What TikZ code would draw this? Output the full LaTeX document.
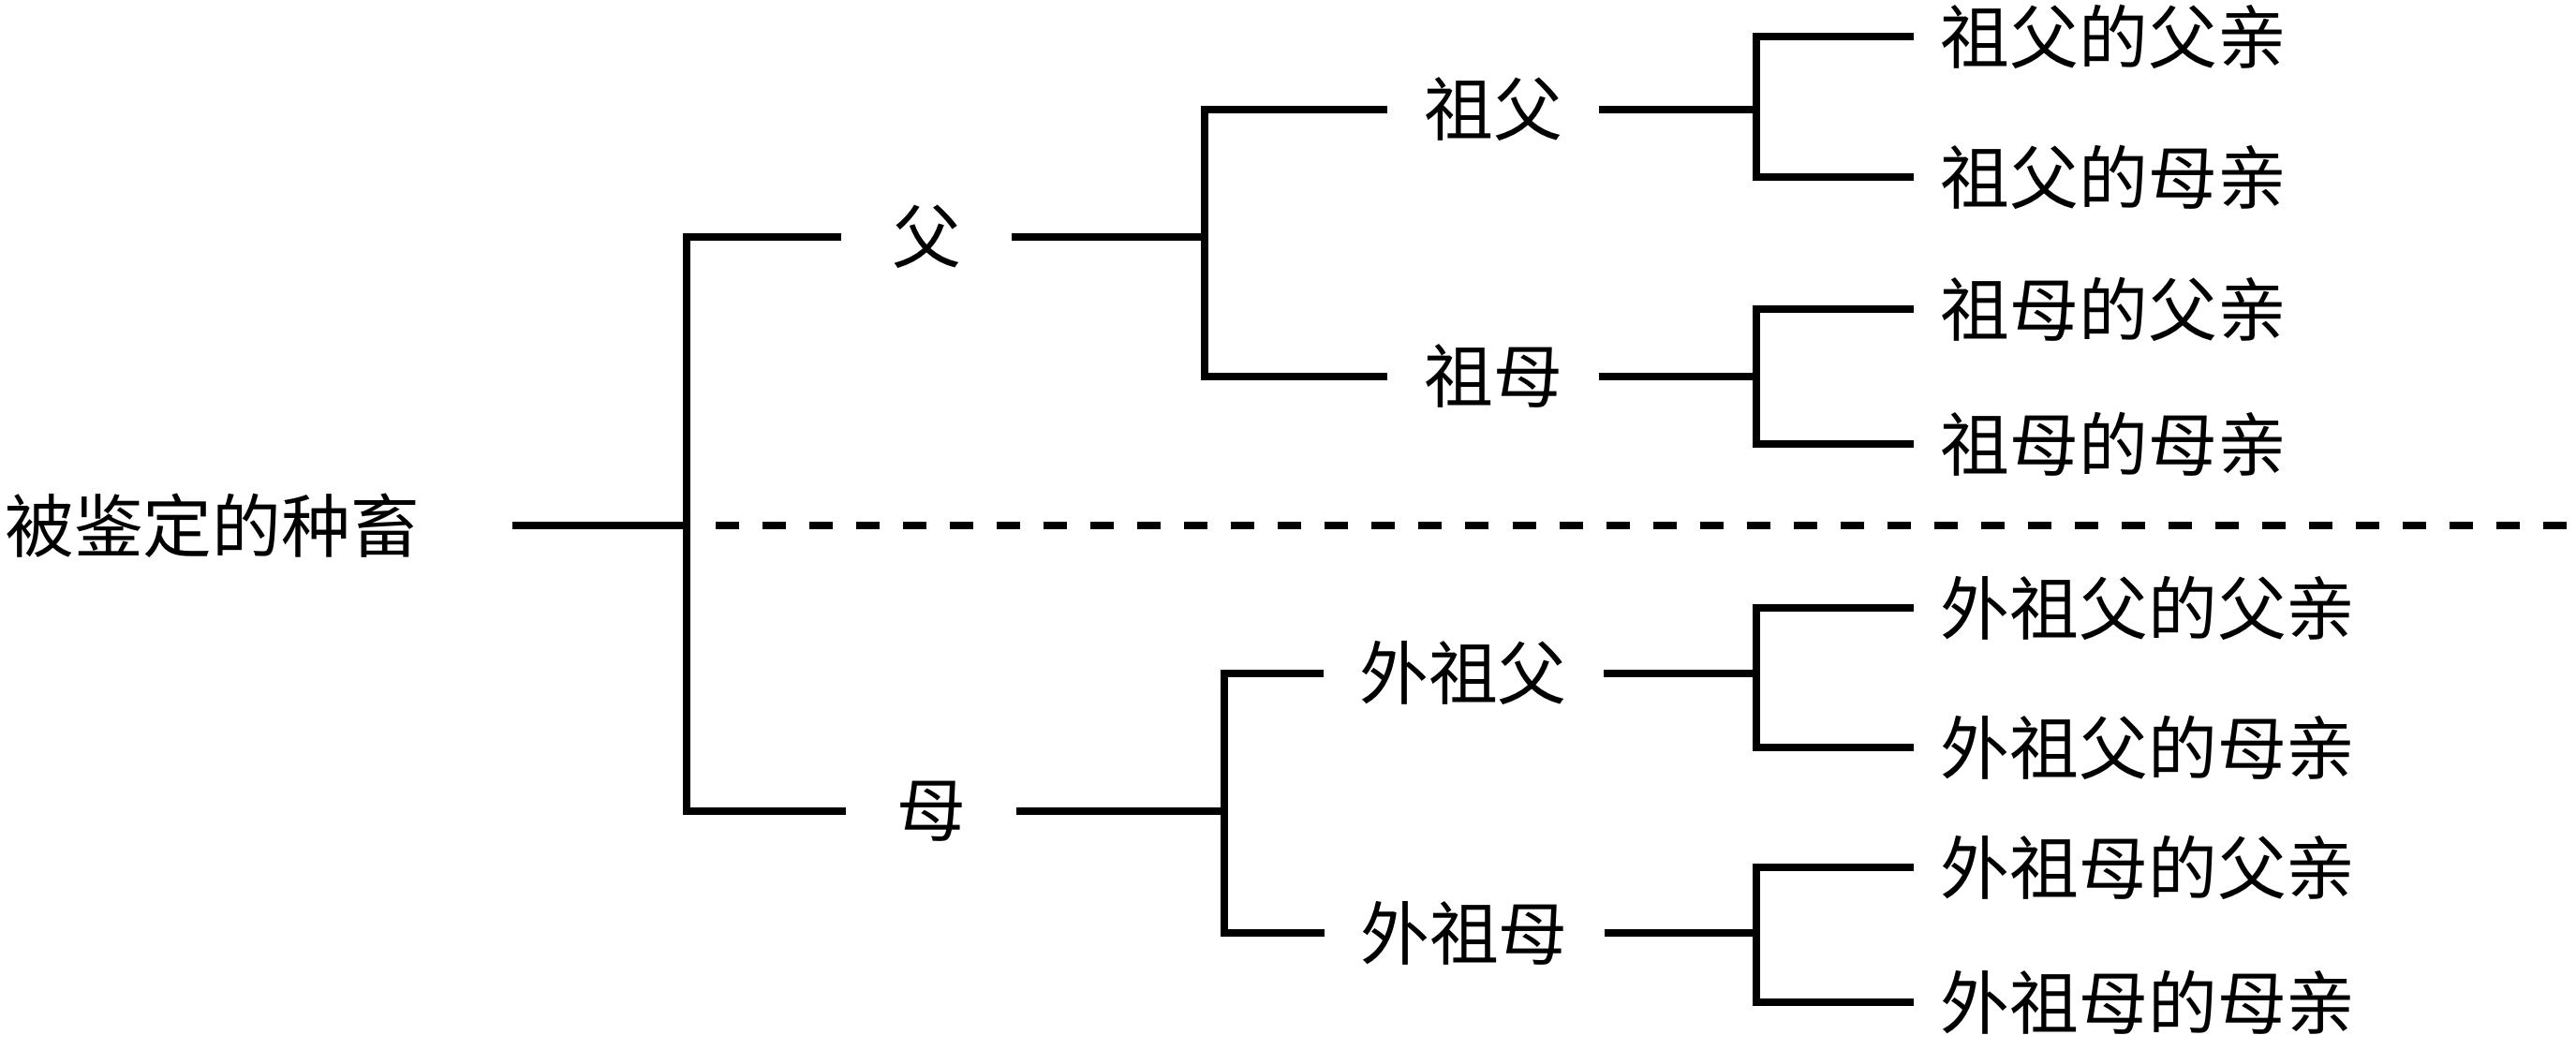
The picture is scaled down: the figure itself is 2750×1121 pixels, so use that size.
\documentclass[tikz,border=0pt]{standalone}
\usepackage{fontspec}
\setmainfont{Noto Sans CJK SC}

\begin{document}
\begin{tikzpicture}[x=0.01cm, y=-0.01cm, line width=2.1pt,
  every node/.style={font=\fontsize{21pt}{25pt}\selectfont, inner ysep=0pt},
  gen1/.style={inner xsep=0.5cm},
  gen2/.style={inner xsep=0.35cm},
  leaf/.style={anchor=west, inner xsep=0.25cm}]
\useasboundingbox (0,0) rectangle (2750,1121);

\node[anchor=east, inner xsep=0.95cm] (animal) at (547,561) {被鉴定的种畜};
\coordinate (j0) at (733,561);
\coordinate (d0) at (764,561);
\coordinate (d1) at (2750,561);

\node[gen1] (fu) at (989,253) {父};
\node[gen1] (mu) at (994,866) {母};

\draw (animal.east) -- (j0);
\draw (fu.west) -| (j0) |- (mu.west);
\draw[dash pattern=on 0.25cm off 0.25cm] (d0) -- (d1);

% paternal side
\coordinate (jf) at (1286,253);
\node[gen2] (zf) at (1594,117) {祖父};
\node[gen2] (zm) at (1594,402) {祖母};
\draw (fu.east) -- (jf);
\draw (zf.west) -| (jf) |- (zm.west);

\coordinate (jzf) at (1875,117);
\node[leaf] (zf-f) at (2043,39) {祖父的父亲};
\node[leaf] (zf-m) at (2043,189) {祖父的母亲};
\draw (zf.east) -- (jzf);
\draw (zf-f.west) -| (jzf) |- (zf-m.west);

\coordinate (jzm) at (1875,402);
\node[leaf] (zm-f) at (2043,330) {祖母的父亲};
\node[leaf] (zm-m) at (2043,474) {祖母的母亲};
\draw (zm.east) -- (jzm);
\draw (zm-f.west) -| (jzm) |- (zm-m.west);

% maternal side
\coordinate (jm) at (1307,866);
\node[gen2] (wzf) at (1562,719) {外祖父};
\node[gen2] (wzm) at (1563,996) {外祖母};
\draw (mu.east) -- (jm);
\draw (wzf.west) -| (jm) |- (wzm.west);

\coordinate (jwzf) at (1875,719);
\node[leaf] (wzf-f) at (2043,649) {外祖父的父亲};
\node[leaf] (wzf-m) at (2043,798) {外祖父的母亲};
\draw (wzf.east) -- (jwzf);
\draw (wzf-f.west) -| (jwzf) |- (wzf-m.west);

\coordinate (jwzm) at (1875,996);
\node[leaf] (wzm-f) at (2043,926) {外祖母的父亲};
\node[leaf] (wzm-m) at (2043,1070) {外祖母的母亲};
\draw (wzm.east) -- (jwzm);
\draw (wzm-f.west) -| (jwzm) |- (wzm-m.west);
\end{tikzpicture}
\end{document}
